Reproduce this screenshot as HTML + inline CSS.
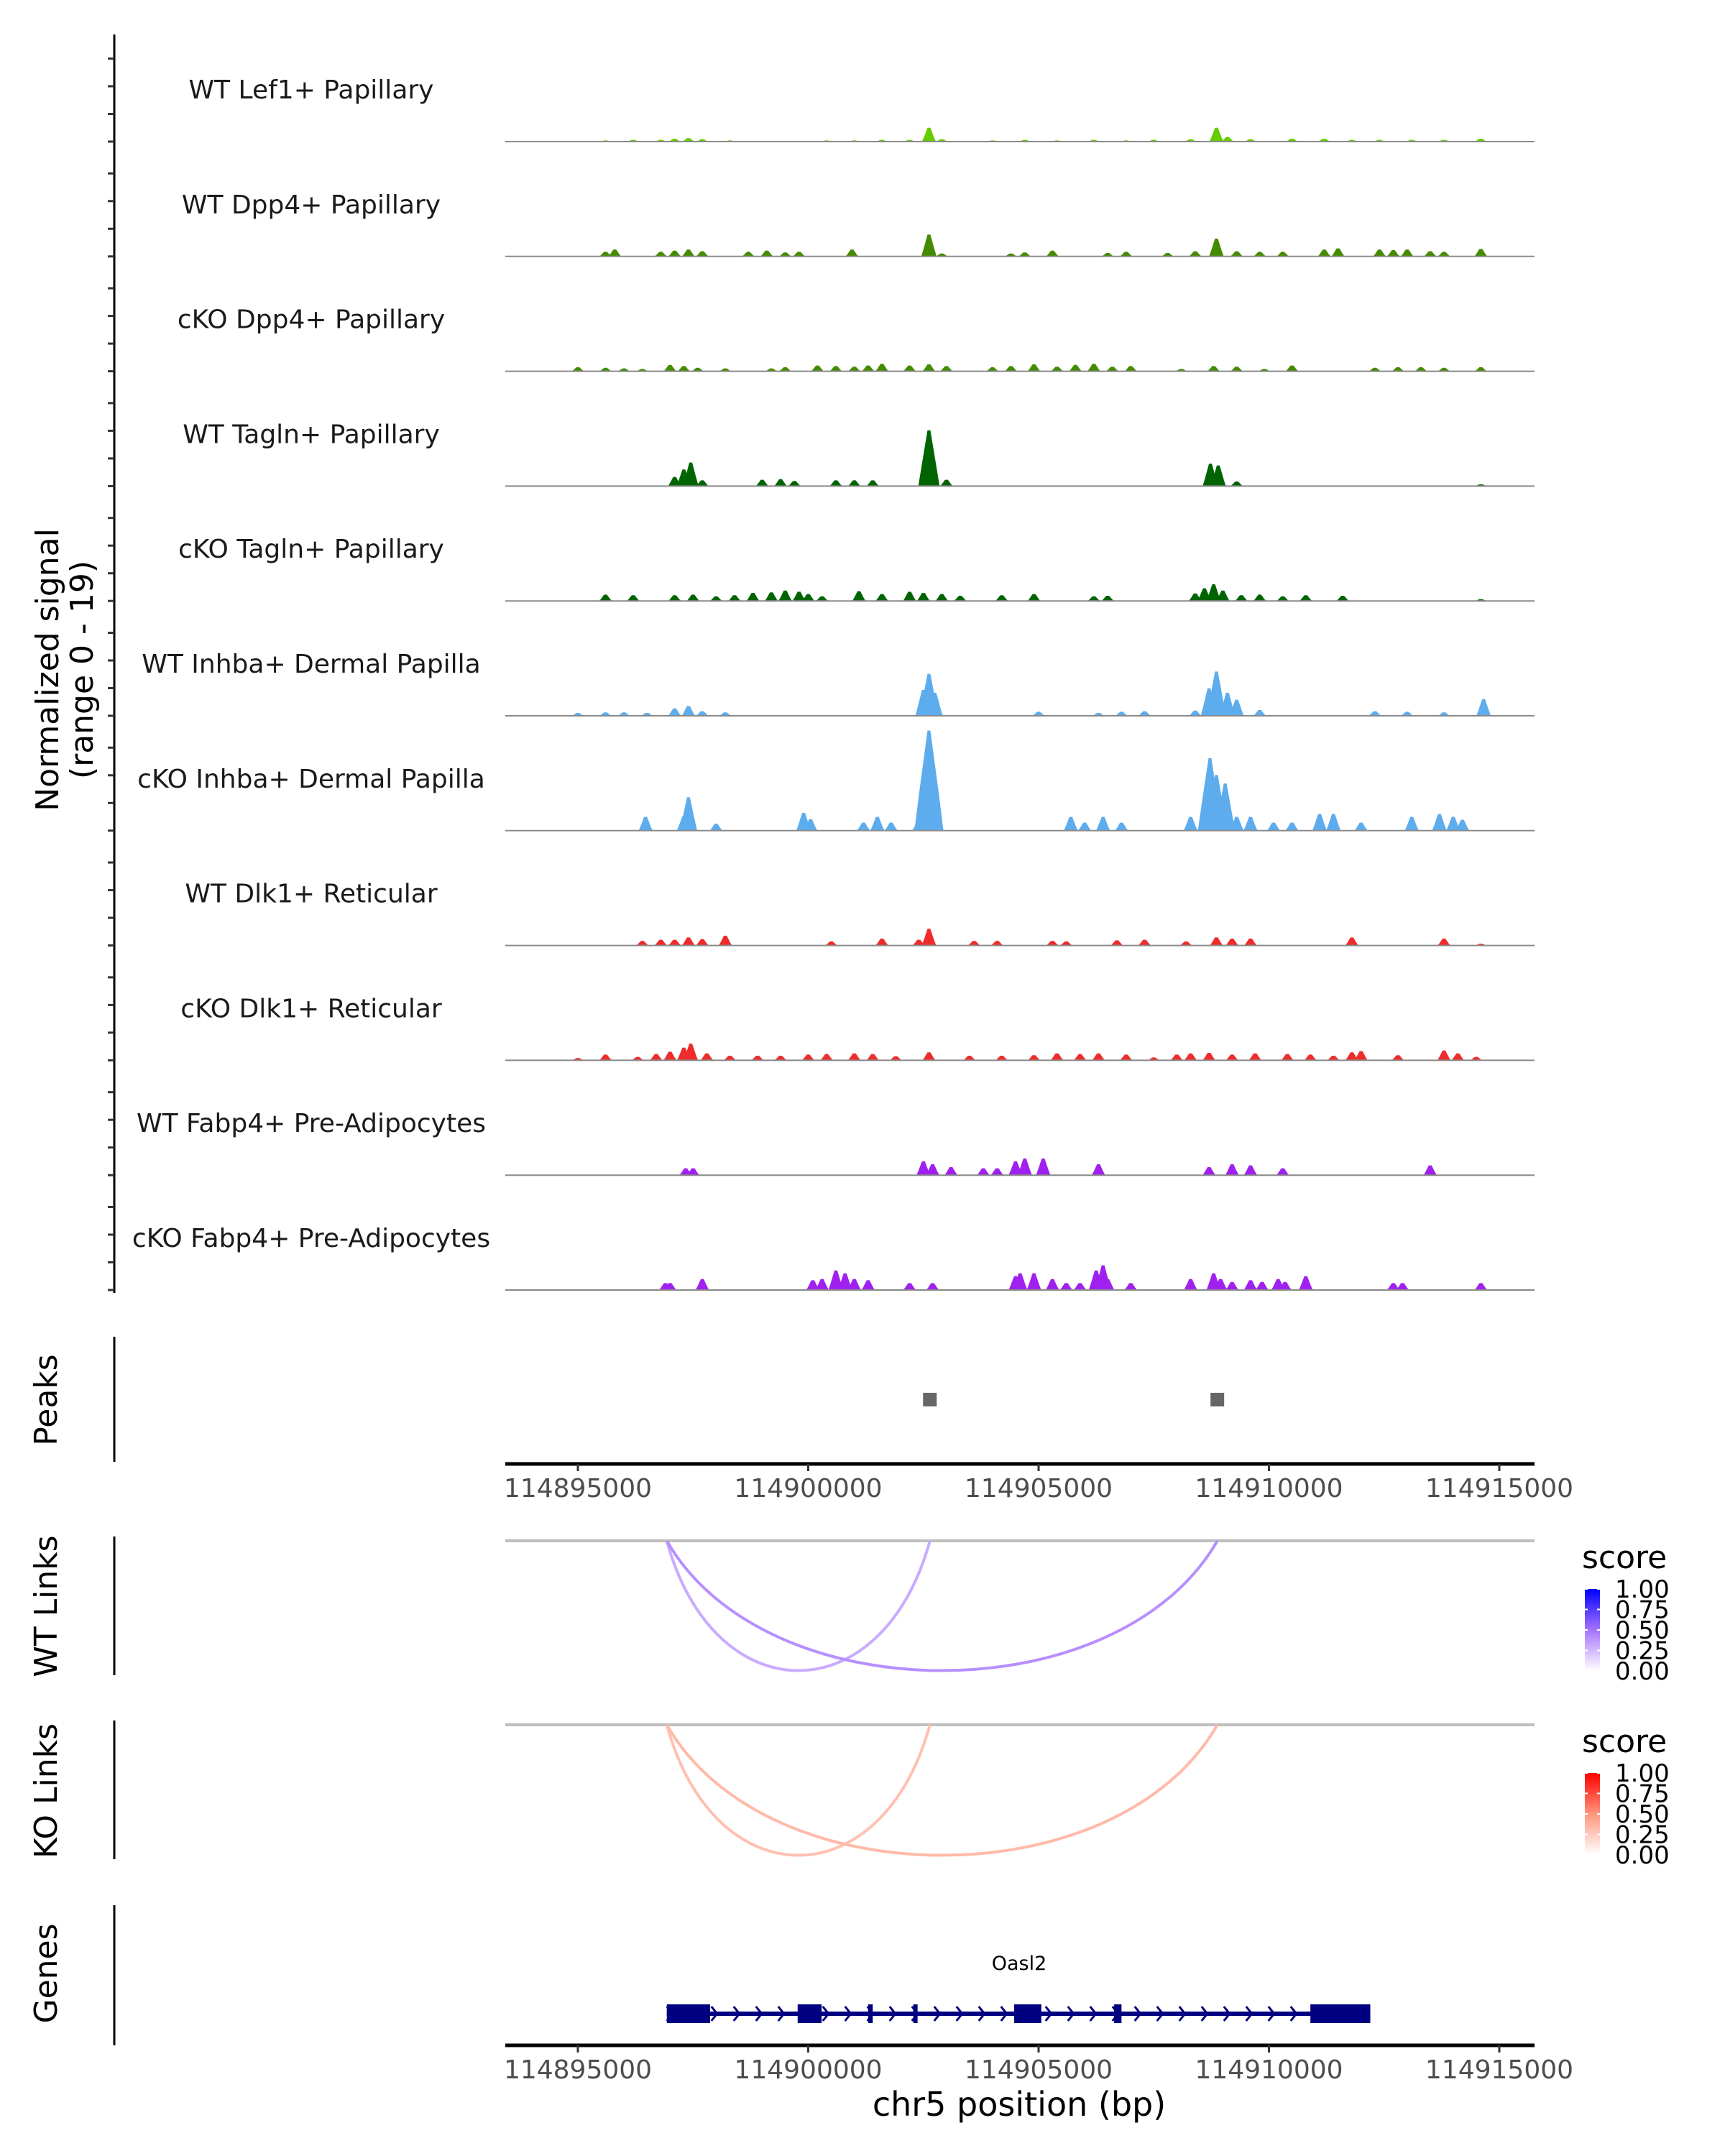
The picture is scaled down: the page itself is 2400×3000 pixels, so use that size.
<!DOCTYPE html>
<html><head><meta charset="utf-8">
<style>
html,body{margin:0;padding:0;background:#fff;}
svg{display:block;font-family:"DejaVu Sans","Liberation Sans",sans-serif;}
</style></head>
<body>
<svg id="fig" width="2400" height="3000" viewBox="0 0 2400 3000" xmlns="http://www.w3.org/2000/svg"></svg>
<script>
// ---- data ----
const trackNames = ["WT Lef1+ Papillary","WT Dpp4+ Papillary","cKO Dpp4+ Papillary","WT Tagln+ Papillary","cKO Tagln+ Papillary","WT Inhba+ Dermal Papilla","cKO Inhba+ Dermal Papilla","WT Dlk1+ Reticular","cKO Dlk1+ Reticular","WT Fabp4+ Pre-Adipocytes","cKO Fabp4+ Pre-Adipocytes"];
const trackColors = ["#66CC00","#458B00","#458B00","#006400","#006400","#5CACEE","#5CACEE","#EE2C2C","#EE2C2C","#A020F0","#A020F0"];
// positions in kb, heights in normalized signal units
const pos0 = [114895.6,114896.2,114896.8,114897.1,114897.4,114897.7,114898.3,114900.4,114901.0,114901.6,114902.2,114902.62,114902.9,114904.0,114904.7,114905.4,114906.2,114906.9,114907.5,114908.3,114908.86,114909.1,114909.6,114910.5,114911.2,114911.8,114912.4,114913.1,114913.8,114914.6];
const h0 = [0.2,0.3,0.3,0.5,0.6,0.4,0.2,0.2,0.2,0.3,0.3,2.4,0.4,0.2,0.3,0.2,0.3,0.2,0.3,0.4,2.4,0.8,0.4,0.5,0.5,0.3,0.3,0.3,0.3,0.5];
const pos1 = [114895.6,114895.8,114896.8,114897.1,114897.4,114897.7,114898.7,114899.1,114899.5,114899.8,114900.95,114902.62,114902.9,114904.4,114904.7,114905.3,114906.5,114906.9,114907.8,114908.4,114908.86,114909.3,114909.8,114910.3,114911.2,114911.5,114912.4,114912.7,114913.0,114913.5,114913.8,114914.6];
const h1 = [0.8,1.2,0.8,1.0,1.2,0.9,0.8,1.0,0.7,0.8,1.2,3.8,0.5,0.5,0.7,1.0,0.6,0.8,0.6,0.9,3.1,0.9,0.8,0.8,1.2,1.4,1.2,1.1,1.2,0.9,0.8,1.3];
const pos2 = [114895.0,114895.6,114896.0,114896.4,114897.0,114897.3,114897.6,114898.2,114899.2,114899.5,114900.2,114900.6,114901.0,114901.3,114901.6,114902.2,114902.62,114903.0,114904.0,114904.4,114904.9,114905.4,114905.8,114906.2,114906.6,114907.0,114908.1,114908.8,114909.3,114909.9,114910.5,114912.3,114912.8,114913.3,114913.8,114914.6];
const h2 = [0.7,0.6,0.5,0.4,1.1,0.9,0.6,0.5,0.5,0.7,1.0,0.9,0.8,1.0,1.3,1.0,1.2,0.9,0.7,0.9,1.2,0.8,1.1,1.3,0.8,0.9,0.4,0.9,0.8,0.4,1.0,0.6,0.7,0.7,0.6,0.7];
const pos3 = [114897.1,114897.3,114897.45,114897.7,114899.0,114899.4,114899.7,114900.6,114901.0,114901.4,114902.55,114902.62,114903.0,114908.73,114908.9,114909.3,114914.6];
const h3 = [1.6,2.9,4.1,1.0,1.1,1.2,0.9,1.0,1.0,1.0,2.0,9.7,1.1,3.9,3.6,0.8,0.3];
const pos4 = [114895.6,114896.2,114897.1,114897.5,114898.0,114898.4,114898.8,114899.2,114899.5,114899.8,114900.0,114900.3,114901.1,114901.6,114902.2,114902.5,114902.9,114903.3,114904.2,114904.9,114906.2,114906.5,114908.4,114908.6,114908.8,114909.0,114909.4,114909.8,114910.3,114910.8,114911.6,114914.6];
const h4 = [1.1,1.0,1.0,1.1,0.8,1.0,1.4,1.5,1.8,1.6,1.2,0.8,1.7,1.2,1.6,1.4,1.2,0.9,1.0,1.2,0.8,0.9,1.3,2.2,2.9,1.8,1.0,1.1,0.8,1.0,0.9,0.3];
const pos5 = [114895.0,114895.6,114896.0,114896.5,114897.1,114897.4,114897.7,114898.2,114902.5,114902.62,114902.75,114905.0,114906.3,114906.8,114907.3,114908.4,114908.7,114908.86,114909.1,114909.3,114909.8,114912.3,114913.0,114913.8,114914.66];
const h5 = [0.5,0.6,0.6,0.5,1.3,1.7,0.8,0.6,4.5,7.3,4.0,0.7,0.5,0.7,0.8,0.9,4.8,7.7,4.0,2.8,1.0,0.8,0.7,0.6,2.9];
const pos6 = [114896.47,114897.3,114897.4,114898.0,114899.9,114900.05,114901.2,114901.5,114901.8,114902.4,114902.62,114905.7,114906.0,114906.4,114906.8,114908.3,114908.72,114908.86,114909.05,114909.3,114909.6,114910.1,114910.5,114911.1,114911.4,114912.0,114913.1,114913.7,114914.0,114914.2];
const h6 = [2.4,2.5,5.8,1.2,3.1,2.0,1.4,2.4,1.4,1.7,17.4,2.4,1.4,2.4,1.4,2.4,12.6,9.7,8.2,2.4,2.4,1.4,1.4,2.9,2.9,1.4,2.4,2.9,2.4,1.9];
const pos7 = [114896.4,114896.8,114897.1,114897.4,114897.7,114898.2,114900.5,114901.6,114902.4,114902.62,114903.6,114904.1,114905.3,114905.6,114906.7,114907.3,114908.2,114908.86,114909.2,114909.6,114911.8,114913.8,114914.6];
const h7 = [0.8,1.0,1.0,1.4,1.1,1.7,0.7,1.2,1.0,2.9,0.8,0.8,0.8,0.7,0.9,1.0,0.7,1.4,1.2,1.2,1.4,1.2,0.3];
const pos8 = [114895.0,114895.6,114896.3,114896.7,114897.0,114897.3,114897.45,114897.8,114898.3,114898.9,114899.4,114900.0,114900.4,114901.0,114901.4,114901.9,114902.62,114903.5,114904.2,114904.9,114905.4,114905.9,114906.3,114906.9,114907.5,114908.0,114908.3,114908.7,114909.2,114909.7,114910.4,114910.9,114911.4,114911.8,114912.0,114912.8,114913.8,114914.1,114914.5];
const h8 = [0.4,1.0,0.6,1.1,1.5,2.2,2.9,1.2,0.8,0.8,0.8,1.0,1.1,1.2,1.1,0.7,1.4,0.8,0.8,0.9,1.2,1.1,1.2,1.0,0.5,1.0,1.2,1.3,1.0,1.2,1.1,1.0,0.8,1.4,1.6,0.9,1.7,1.2,0.6];
const pos9 = [114897.34,114897.5,114902.5,114902.7,114903.1,114903.8,114904.1,114904.5,114904.7,114905.1,114906.3,114908.7,114909.2,114909.6,114910.3,114913.5];
const h9 = [1.2,1.2,2.4,1.9,1.4,1.2,1.2,2.4,2.9,2.9,1.9,1.4,1.9,1.7,1.2,1.7];
const pos10 = [114896.9,114897.0,114897.7,114900.1,114900.3,114900.6,114900.8,114901.0,114901.3,114902.2,114902.7,114904.5,114904.6,114904.9,114905.3,114905.6,114905.9,114906.25,114906.4,114906.5,114907.0,114908.3,114908.8,114908.95,114909.2,114909.6,114909.85,114910.2,114910.35,114910.8,114912.7,114912.9,114914.6];
const h10 = [1.2,1.2,1.9,1.7,1.9,3.4,2.9,1.9,1.7,1.2,1.2,2.4,2.9,2.9,1.9,1.2,1.2,3.4,4.3,1.9,1.2,1.9,2.9,1.9,1.4,1.7,1.4,1.9,1.4,2.4,1.2,1.2,1.2];
const allPos = [pos0,pos1,pos2,pos3,pos4,pos5,pos6,pos7,pos8,pos9,pos10];
const allH = [h0,h1,h2,h3,h4,h5,h6,h7,h8,h9,h10];
const peakCenters = [114902.64,114908.88];
const xTicks = [114895000,114900000,114905000,114910000,114915000];
const linkStarts = [114896.93,114896.93];
const linkEnds = [114902.64,114908.88];
const wtScores = [0.3,0.4];
const koScores = [0.3,0.33];
const exonStarts = [114896.93,114899.77,114901.3,114902.28,114904.47,114906.64,114910.9];
const exonEnds = [114897.87,114900.29,114901.4,114902.35,114905.06,114906.8,114912.2];
const geneStart = 114896.93, geneEnd = 114912.2;
const legendTicks = ["1.00","0.75","0.50","0.25","0.00"];

// ---- scales ----
const X0 = 703, X1 = 2135, D0 = 114893424, D1 = 114915765;
const xs = bp => X0 + (bp - D0) / (D1 - D0) * (X1 - X0);
const xk = kb => xs(kb * 1000);
const UNIT = 8;
const svg = document.getElementById('fig');
const NS = 'http://www.w3.org/2000/svg';
function mk(tag, attrs, parent, text) {
  const e = document.createElementNS(NS, tag);
  for (const k in attrs) e.setAttribute(k, attrs[k]);
  if (text !== undefined) e.textContent = text;
  (parent || svg).appendChild(e);
  return e;
}
function lerp(a, b, t) { return Math.round(a + (b - a) * t); }
function scoreColor(s, mid, hi) {
  let c;
  if (s <= 0.5) { const t = s / 0.5; c = [lerp(255, mid[0], t), lerp(255, mid[1], t), lerp(255, mid[2], t)]; }
  else { const t = (s - 0.5) / 0.5; c = [lerp(mid[0], hi[0], t), lerp(mid[1], hi[1], t), lerp(mid[2], hi[2], t)]; }
  return `rgb(${c.join(',')})`;
}

// Left axis for coverage
let e = mk('line', {x1:159, y1:48, x2:159, y2:1799, stroke:'#000', 'stroke-width':3});



e = mk('text', {x:0, y:0, 'font-size':44, 'text-anchor':'middle', transform:'translate(91,932) rotate(-90)'});


mk('tspan', {x:0, dy:-10}, e, 'Normalized signal');
mk('tspan', {x:0, dy:48}, e, '(range 0 - 19)');

const base0 = 197, step = 159.8;
for (let i = 0; i < trackNames.length; i++) {
  const by = base0 + i * step;
  const g = mk('g', {});
  
  
  for (let t = 0; t < 4; t++) {
    mk('line', {x1:150, x2:159, y1:by - t * 38.5, y2:by - t * 38.5, stroke:'#333', 'stroke-width':3}, g);
  }
  const lab = mk('text', {x:433, y:by - 60, 'font-size':36, 'text-anchor':'middle', fill:'#1a1a1a'}, g, trackNames[i]);
  
  
  const ps = allPos[i], hs = allH[i];
  for (let j = 0; j < ps.length; j++) {
    const cx = xk(ps[j]);
    const hh = hs[j] * UNIT;
    const w = 8 + hs[j] * 0.7;
    const pk = mk('polygon', {points: `${cx - w},${by} ${cx - w * 0.7},${by - hh * 0.35} ${cx - 2},${by - hh} ${cx + 2},${by - hh} ${cx + w * 0.7},${by - hh * 0.35} ${cx + w},${by}`, fill: trackColors[i]}, g);
    
    
  }
  mk('line', {x1:X0, x2:X1, y1:by, y2:by, stroke:'#8a8a8a', 'stroke-width':2}, g);
}

// Peaks
e = mk('line', {x1:159, y1:1860, x2:159, y2:2034, stroke:'#000', 'stroke-width':3});


e = mk('text', {x:0, y:0, 'font-size':44, 'text-anchor':'middle', transform:'translate(79,1948) rotate(-90)'}, null, 'Peaks');


for (const p of peakCenters) {
  const r = mk('rect', {x:xk(p) - 9.5, y:1938, width:19, height:19, fill:'#666'});
  
  
}

function xAxis(y, name) {
  const g = mk('g', {});
  
  
  mk('line', {x1:X0, x2:X1, y1:y, y2:y, stroke:'#000', 'stroke-width':5}, g);
  for (const t of xTicks) {
    const x = xs(t);
    mk('line', {x1:x, x2:x, y1:y, y2:y + 10, stroke:'#333', 'stroke-width':3}, g);
    const tl = mk('text', {x:x, y:y + 46, 'font-size':36, 'text-anchor':'middle', fill:'#4d4d4d'}, g, String(t));
    
    
  }
}
xAxis(2037, 'peaks-x-axis');

// Links
function linkPanel(y0, yb, ax0, ax1, titleY, title, starts, ends, scores, mid, hi, legendY, name) {
  const g = mk('g', {});
  
  
  mk('line', {x1:159, y1:ax0, x2:159, y2:ax1, stroke:'#000', 'stroke-width':3}, g);
  const t = mk('text', {x:0, y:0, 'font-size':44, 'text-anchor':'middle', transform:`translate(79,${titleY}) rotate(-90)`}, g, title);
  
  
  mk('line', {x1:X0, x2:X1, y1:y0, y2:y0, stroke:'#bebebe', 'stroke-width':4}, g);
  const d = yb - y0;
  for (let i = 0; i < starts.length; i++) {
    const a = xk(starts[i]), b = xk(ends[i]);
    const col = scoreColor(scores[i], mid, hi);
    const p = mk('path', {d:`M${a},${y0} C${a + (b - a) * 0.18},${y0 + d * 1.33} ${b - (b - a) * 0.18},${y0 + d * 1.33} ${b},${y0}`, fill:'none', stroke:col, 'stroke-width':4}, g);
    
    
  }
  const lg = mk('g', {}, g);
  
  
  mk('text', {x:2201, y:legendY, 'font-size':44, fill:'#000'}, lg, 'score');
  const gid = 'grad' + name;
  const defs = mk('defs', {}, lg);
  const gr = mk('linearGradient', {id:gid, x1:0, y1:1, x2:0, y2:0}, defs);
  mk('stop', {offset:0, 'stop-color':'#fff'}, gr);
  mk('stop', {offset:0.5, 'stop-color':`rgb(${mid.join(',')})`}, gr);
  mk('stop', {offset:1, 'stop-color':`rgb(${hi.join(',')})`}, gr);
  const cy = legendY + 29, ch = 114;
  mk('rect', {x:2205, y:cy, width:21, height:ch, fill:`url(#${gid})`}, lg);
  for (let k = 0; k < legendTicks.length; k++) {
    const ty = cy + k * (ch / 4);
    mk('line', {x1:2205, x2:2209, y1:ty, y2:ty, stroke:'#fff', 'stroke-width':2}, lg);
    mk('line', {x1:2222, x2:2226, y1:ty, y2:ty, stroke:'#fff', 'stroke-width':2}, lg);
    mk('text', {x:2247, y:ty + 12, 'font-size':34, fill:'#000'}, lg, legendTicks[k]);
  }
}
linkPanel(2144, 2325, 2138, 2331, 2235, 'WT Links', linkStarts, linkEnds, wtScores, [165, 115, 255], [0, 0, 255], 2182, 'wt-links-panel');
linkPanel(2400, 2582, 2394, 2587, 2492, 'KO Links', linkStarts, linkEnds, koScores, [255, 150, 125], [255, 0, 0], 2438, 'ko-links-panel');

// Genes
const gg = mk('g', {});


mk('line', {x1:159, y1:2651, x2:159, y2:2846, stroke:'#000', 'stroke-width':3}, gg);
e = mk('text', {x:0, y:0, 'font-size':44, 'text-anchor':'middle', transform:'translate(79,2746) rotate(-90)'}, gg, 'Genes');


const gy = 2802;
const gl = mk('line', {x1:xk(geneStart), x2:xk(geneEnd), y1:gy, y2:gy, stroke:'#000080', 'stroke-width':6}, gg);


for (let x = xk(geneStart) + 4; x < xk(geneEnd) - 10; x += 31) {
  mk('polyline', {points:`${x - 4},${gy - 10} ${x + 4},${gy} ${x - 4},${gy + 10}`, fill:'none', stroke:'#000080', 'stroke-width':3}, gg);
}
for (let i = 0; i < exonStarts.length; i++) {
  const x = xk(exonStarts[i]), w = Math.max(6, xk(exonEnds[i]) - x);
  const r = mk('rect', {x:x, y:gy - 13, width:w, height:26, fill:'#000080'}, gg);
  
  
}
e = mk('text', {x:1418, y:2741, 'font-size':27, 'text-anchor':'middle', fill:'#000'}, gg, 'Oasl2');



xAxis(2846, 'genes-x-axis');
e = mk('text', {x:1418, y:2944, 'font-size':46, 'text-anchor':'middle', fill:'#000'}, null, 'chr5 position (bp)');


</script>
</body></html>
